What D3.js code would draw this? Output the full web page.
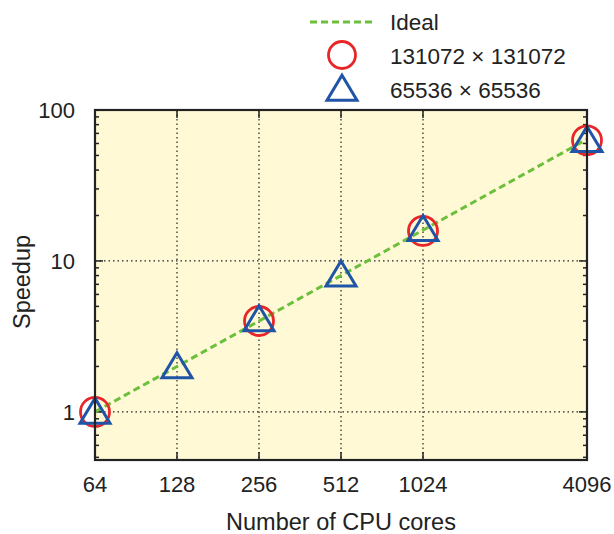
<!DOCTYPE html>
<html><head><meta charset="utf-8">
<script src="https://cdn.jsdelivr.net/npm/d3@7"></script>
<style>body{margin:0;background:#fff}svg{display:block}text{font-family:"Liberation Sans",Arial,Helvetica,sans-serif;fill:#222}</style>
</head><body><svg id="c" width="614" height="534"></svg>
<script>
const cores = [64, 128, 256, 512, 1024, 4096];
const idealSpeedup = [1, 2, 4, 8, 16, 64];
const coresLarge = [64, 256, 1024, 4096];
const speedupLarge = [1, 4, 15.8, 63];          // 131072 x 131072
const coresSmall = [64, 128, 256, 512, 1024, 4096];
const speedupSmall = [1, 2, 4.1, 8.1, 16.2, 63];  // 65536 x 65536
const xTickLabels = ["64", "128", "256", "512", "1024", "4096"];
const yTickValues = [1, 10, 100];
const yTickLabels = ["1", "10", "100"];
const legendLabels = ["Ideal", "131072 \u00d7 131072", "65536 \u00d7 65536"];

const svg = d3.select("#c");
const L = 95, R = 587, T = 110, B = 460;
const x = d3.scaleLog().base(2).domain([64, 4096]).range([L, R]);
const y = d3.scaleLog().domain([0.48, 100]).range([B, T]);

const RED = "#e8262a", BLUE = "#2054a6", GREEN = "#6cbf3c", DARK = "#222";

svg.append("rect").attr("x", L).attr("y", T).attr("width", R - L).attr("height", B - T).attr("fill", "#fffad5");

// grid
const g = svg.append("g");
cores.filter(c => c > 64 && c < 4096).forEach(c => {
  g.append("line").attr("x1", x(c)).attr("x2", x(c)).attr("y1", T).attr("y2", B)
    .attr("stroke", "#222").attr("stroke-width", 1.2).attr("stroke-dasharray", "1.5,3");
});
yTickValues.filter(v => v < 100).forEach(v => {
  g.append("line").attr("x1", L).attr("x2", R).attr("y1", y(v)).attr("y2", y(v))
    .attr("stroke", "#222").attr("stroke-width", 1.2).attr("stroke-dasharray", "1.5,3");
});

// ticks (inside)
const minor = [];
[0.1, 1, 10].forEach(d => { for (let k = 2; k <= 9; k++) { const v = d * k; if (v > 0.48 && v < 100) minor.push(v); } });
minor.forEach(v => {
  svg.append("line").attr("x1", L).attr("x2", L + 4).attr("y1", y(v)).attr("y2", y(v)).attr("stroke", DARK).attr("stroke-width", 1.5);
  svg.append("line").attr("x1", R).attr("x2", R - 4).attr("y1", y(v)).attr("y2", y(v)).attr("stroke", DARK).attr("stroke-width", 1.5);
});
yTickValues.forEach(v => {
  svg.append("line").attr("x1", L).attr("x2", L + 8).attr("y1", y(v)).attr("y2", y(v)).attr("stroke", DARK).attr("stroke-width", 1.5);
  svg.append("line").attr("x1", R).attr("x2", R - 8).attr("y1", y(v)).attr("y2", y(v)).attr("stroke", DARK).attr("stroke-width", 1.5);
});
cores.forEach(c => {
  svg.append("line").attr("x1", x(c)).attr("x2", x(c)).attr("y1", B).attr("y2", B - 8).attr("stroke", DARK).attr("stroke-width", 1.5);
  svg.append("line").attr("x1", x(c)).attr("x2", x(c)).attr("y1", T).attr("y2", T + 8).attr("stroke", DARK).attr("stroke-width", 1.5);
});

// ideal line
const line = d3.line().x((d, i) => x(cores[i])).y(d => y(d));
svg.append("path").datum(idealSpeedup).attr("d", line).attr("fill", "none")
  .attr("stroke", GREEN).attr("stroke-width", 3).attr("stroke-dasharray", "7,4");

const triPath = (cx, cy) => {
  const w = 15, h = 25;
  return `M${cx},${cy - h * 0.55}L${cx + w},${cy + h * 0.45}L${cx - w},${cy + h * 0.45}Z`;
};

svg.append("g").selectAll("circle").data(speedupLarge).join("circle")
  .attr("cx", (d, i) => x(coresLarge[i])).attr("cy", d => y(d)).attr("r", 14.5)
  .attr("fill", "none").attr("stroke", RED).attr("stroke-width", 2.8);
svg.append("g").selectAll("path").data(speedupSmall).join("path")
  .attr("d", (d, i) => triPath(x(coresSmall[i]), y(d)))
  .attr("fill", "none").attr("stroke", BLUE).attr("stroke-width", 3).attr("stroke-linejoin", "miter");

// frame
svg.append("rect").attr("x", L).attr("y", T).attr("width", R - L).attr("height", B - T)
  .attr("fill", "none").attr("stroke", DARK).attr("stroke-width", 2.2);

// tick labels
cores.forEach((c, i) => {
  svg.append("text").attr("x", x(c)).attr("y", 492).attr("text-anchor", "middle").attr("font-size", 22).text(xTickLabels[i]);
});
yTickValues.forEach((v, i) => {
  svg.append("text").attr("x", 75).attr("y", y(v)).attr("dy", "0.36em").attr("text-anchor", "end").attr("font-size", 22).text(yTickLabels[i]);
});

// axis titles
svg.append("text").attr("x", 341).attr("y", 530).attr("text-anchor", "middle").attr("font-size", 23.5).text("Number of CPU cores");
svg.append("text").attr("transform", "translate(30,282) rotate(-90)").attr("text-anchor", "middle").attr("font-size", 23.5).text("Speedup");

// legend
const lg = svg.append("g");
lg.append("line").attr("x1", 310).attr("x2", 372).attr("y1", 22).attr("y2", 22)
  .attr("stroke", GREEN).attr("stroke-width", 3).attr("stroke-dasharray", "7,4");
lg.append("circle").attr("cx", 342).attr("cy", 55).attr("r", 13.5).attr("fill", "none").attr("stroke", RED).attr("stroke-width", 2.8);
lg.append("path").attr("d", triPath(342, 89)).attr("fill", "none").attr("stroke", BLUE).attr("stroke-width", 3);
[30, 64, 98].forEach((yy, i) => {
  lg.append("text").attr("x", 390).attr("y", yy).attr("font-size", 22.5).text(legendLabels[i]);
});
</script></body></html>
